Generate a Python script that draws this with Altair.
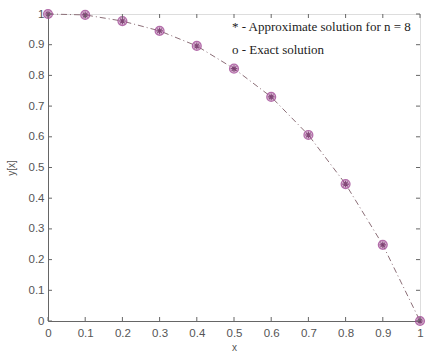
import altair as alt
import pandas as pd

xs = [0.0, 0.1, 0.2, 0.3, 0.4, 0.5, 0.6, 0.7, 0.8, 0.9, 1.0]
y_exact = [1.0, 0.997, 0.977, 0.945, 0.896, 0.822, 0.730, 0.606, 0.446, 0.248, 0.0]
y_approx = [1.0, 0.997, 0.977, 0.945, 0.896, 0.822, 0.730, 0.606, 0.446, 0.248, 0.0]
x_ticks = [0, 0.1, 0.2, 0.3, 0.4, 0.5, 0.6, 0.7, 0.8, 0.9, 1]
y_ticks = [0, 0.1, 0.2, 0.3, 0.4, 0.5, 0.6, 0.7, 0.8, 0.9, 1]
legend_lines = ["* - Approximate solution for n = 8", "o - Exact solution"]

W, H = 372, 307
AX = "#666666"

df = pd.DataFrame({"x": xs, "exact": y_exact, "approx": y_approx})
xt = pd.DataFrame({"v": x_ticks})
yt = pd.DataFrame({"v": y_ticks})

xscale = alt.Scale(domain=[0, 1], nice=False, zero=False)
yscale = alt.Scale(domain=[0, 1], nice=False, zero=False)

lab = "datum.value == 0 ? '0' : datum.value == 1 ? '1' : format(datum.value, '.1f')"
xaxis = alt.Axis(values=x_ticks, title="x", tickSize=0, labelPadding=6, domainColor=AX,
                 labelColor="#555555", labelFont="Liberation Sans", labelFontSize=11.5,
                 titleFont="Liberation Sans", titleFontSize=10, titleFontWeight="normal",
                 titleColor="#555555", titlePadding=4, grid=False, labelExpr=lab,
                 labelOverlap=False, labelFlush=False)
yaxis = alt.Axis(values=y_ticks, title="y[x]", tickSize=0, labelPadding=4, domainColor=AX,
                 labelColor="#555555", labelFont="Liberation Sans", labelFontSize=11.5,
                 titleFont="Liberation Sans", titleFontSize=10, titleFontWeight="normal",
                 titleColor="#555555", titlePadding=12, grid=False, labelExpr=lab,
                 labelOverlap=False, labelFlush=False)

def X(f):
    return alt.X(f, scale=xscale, axis=xaxis)

def Y(f):
    return alt.Y(f, scale=yscale, axis=yaxis)

base = alt.Chart(df)

line = base.mark_line(color="#8c6f78", strokeWidth=1, strokeDash=[6, 3, 1, 3]).encode(
    x=X("x:Q"), y=Y("exact:Q"))

circ = base.mark_point(shape="circle", filled=True, color="#c98fc0", size=80, opacity=0.6).encode(
    x=X("x:Q"), y=Y("exact:Q"))
circ2 = base.mark_point(shape="circle", filled=False, color="#9a3c8e", size=80, strokeWidth=1.2).encode(
    x=X("x:Q"), y=Y("exact:Q"))

star_path = "M-1,0L1,0M0,-1L0,1M-0.7,-0.7L0.7,0.7M-0.7,0.7L0.7,-0.7"
star = base.mark_point(shape=star_path, filled=False, color="#5e1a52", size=45, strokeWidth=1.1).encode(
    x=X("x:Q"), y=Y("approx:Q"))

tick_len = 4
xt_bottom = alt.Chart(xt).mark_rule(color=AX).encode(
    x=X("v:Q"), y=alt.value(H), y2=alt.value(H - tick_len))
xt_top = alt.Chart(xt).mark_rule(color=AX).encode(
    x=X("v:Q"), y=alt.value(0), y2=alt.value(tick_len))
yt_left = alt.Chart(yt).mark_rule(color=AX).encode(
    y=Y("v:Q"), x=alt.value(0), x2=alt.value(tick_len))
yt_right = alt.Chart(yt).mark_rule(color=AX).encode(
    y=Y("v:Q"), x=alt.value(W), x2=alt.value(W - tick_len))

legend_rows = []
for i, t in enumerate(legend_lines):
    legend_rows.append(
        alt.Chart(pd.DataFrame({"t": [t]})).mark_text(
            align="left", baseline="middle", font="Liberation Serif",
            fontSize=13, color="#222222").encode(
            x=alt.value(184), y=alt.value(13 + 23 * i), text="t:N")
    )

chart = alt.layer(line, circ, circ2, star, xt_bottom, xt_top, yt_left, yt_right, *legend_rows).properties(
    width=W, height=H,
    autosize=alt.AutoSizeParams(type="none"),
    padding={"left": 48, "top": 14, "right": 15, "bottom": 36},
).configure_view(stroke=AX, strokeWidth=1).configure(background="white")

chart.save("out.html", embed_options={"renderer": "svg", "actions": False})
